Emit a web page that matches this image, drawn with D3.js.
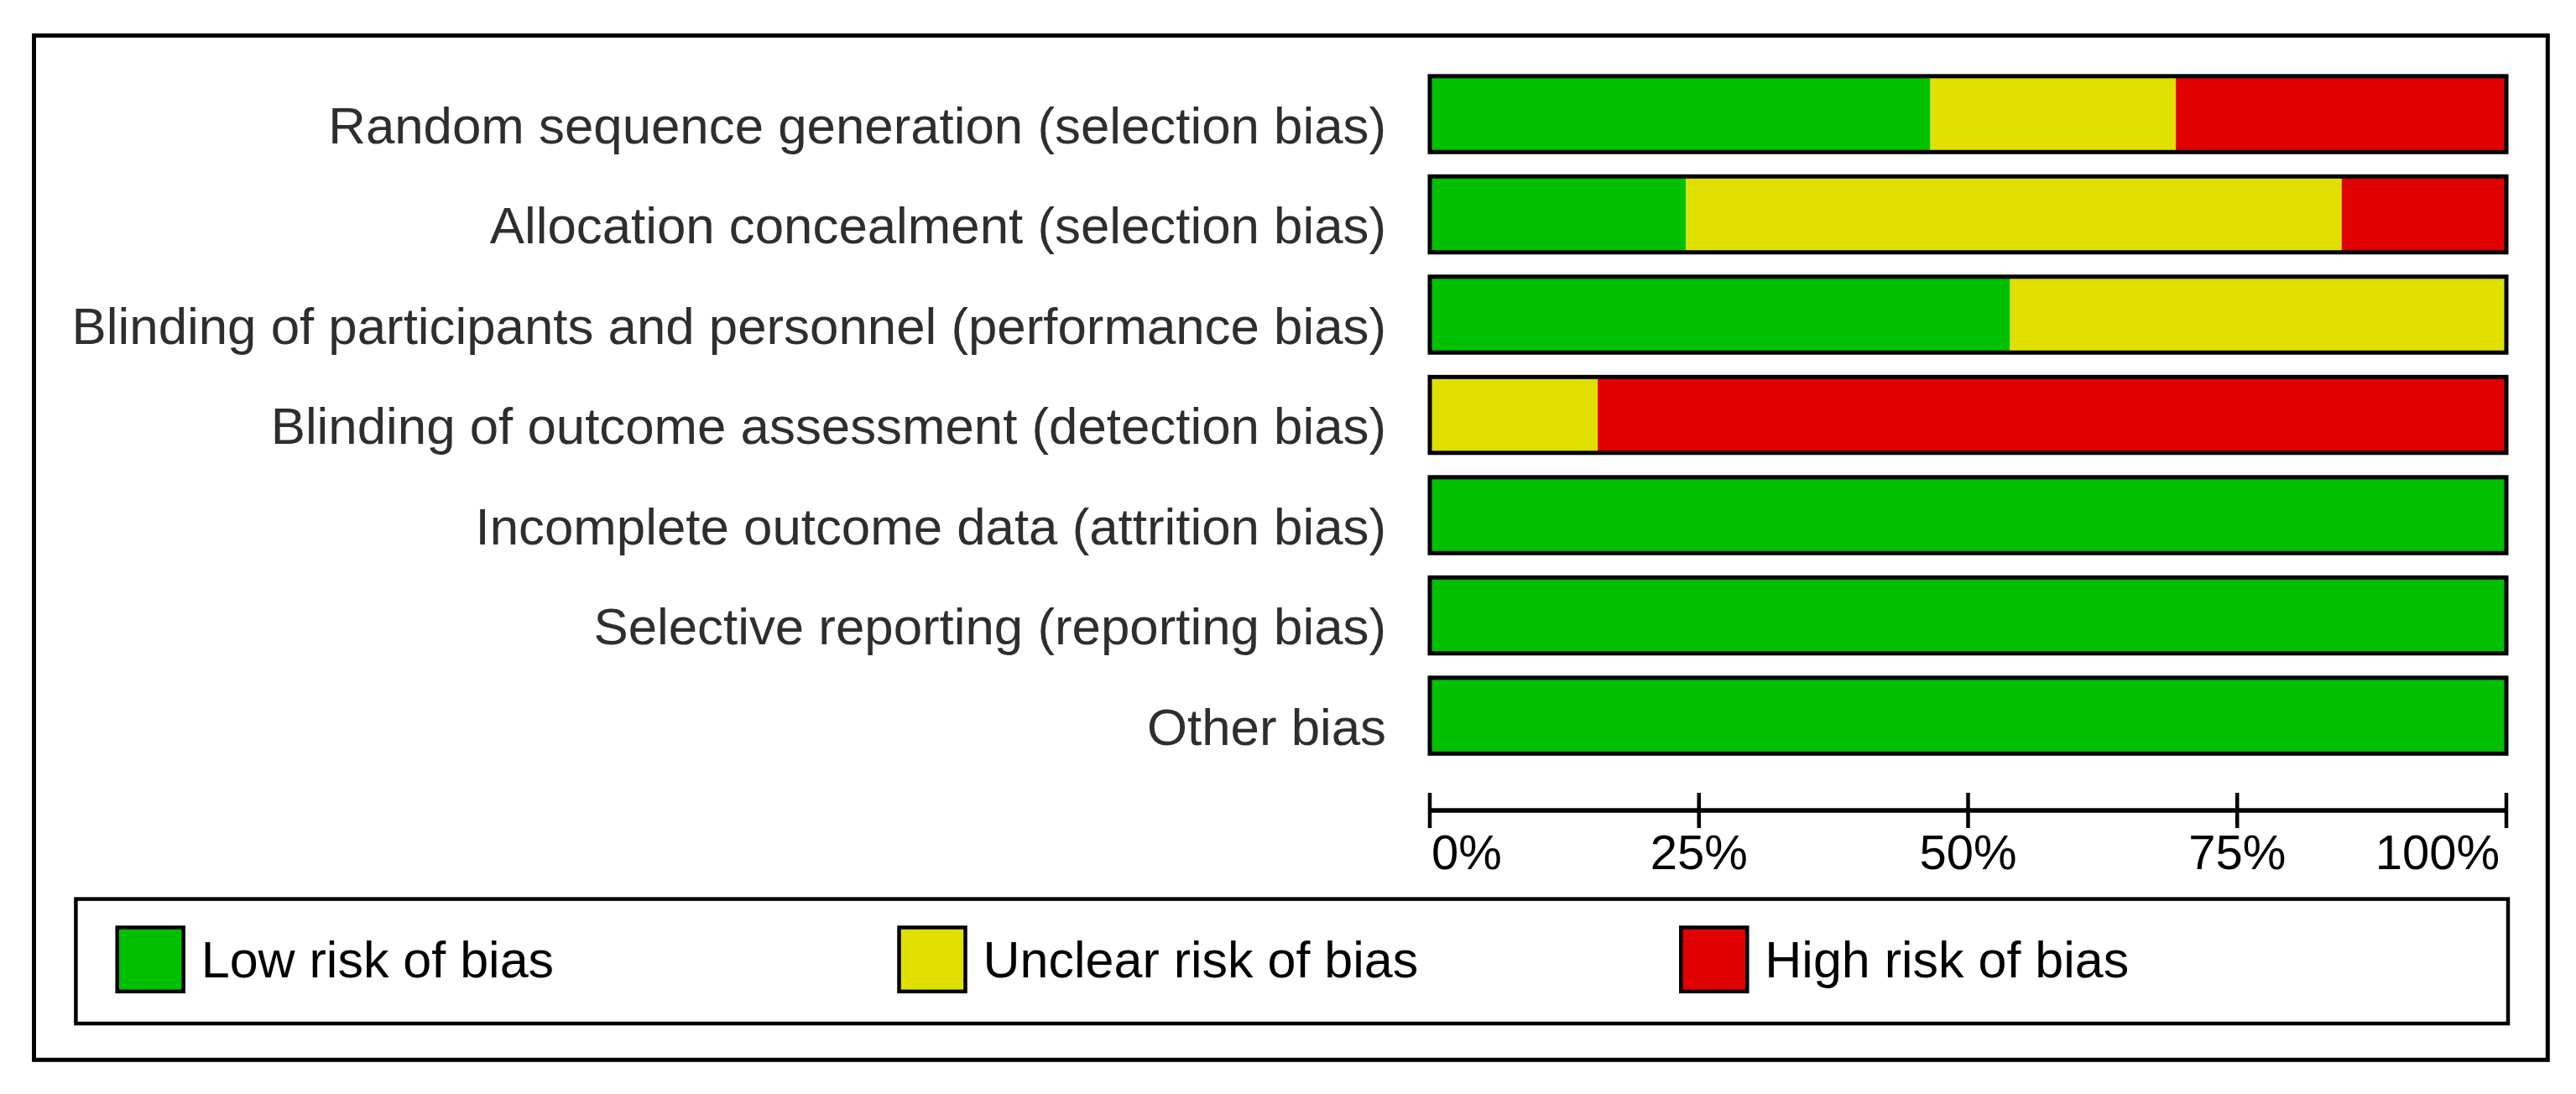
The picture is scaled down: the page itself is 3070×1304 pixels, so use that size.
<!DOCTYPE html>
<html>
<head>
<meta charset="utf-8">
<script src="https://cdn.jsdelivr.net/npm/d3@7/dist/d3.min.js"></script>
<style>
  html, body { margin: 0; padding: 0; background: #ffffff; }
  svg { display: block; }
</style>
</head>
<body>
<svg id="chart" width="3070" height="1304"></svg>
<script>
// ---- data ----
const categories = [
  "Random sequence generation (selection bias)",
  "Allocation concealment (selection bias)",
  "Blinding of participants and personnel (performance bias)",
  "Blinding of outcome assessment (detection bias)",
  "Incomplete outcome data (attrition bias)",
  "Selective reporting (reporting bias)",
  "Other bias"
];
const lowRisk     = [46.5, 23.8, 53.9,  0.0, 100, 100, 100];
const unclearRisk = [22.8, 60.9, 46.1, 15.6,   0,   0,   0];
const highRisk    = [30.7, 15.3,  0.0, 84.4,   0,   0,   0];
const seriesNames = ["Low risk of bias", "Unclear risk of bias", "High risk of bias"];
const seriesColors = ["#00c000", "#e0e000", "#e00000"];
const tickValues = [0, 25, 50, 75, 100];
const tickLabels = ["0%", "25%", "50%", "75%", "100%"];

// ---- layout ----
const svg = d3.select("#chart");
const fontFamily = "'Liberation Sans', Arial, sans-serif";

const x = d3.scaleLinear().domain([0, 100]).range([1704, 2987]);
const y = d3.scaleBand().domain(categories).range([90.8, 898.3]).paddingInner(0.243).paddingOuter(0);

// outer frame
svg.append("rect")
  .attr("x", 40.5).attr("y", 42.3)
  .attr("width", 3036.3 - 40.5).attr("height", 1263.3 - 42.3)
  .attr("fill", "none").attr("stroke", "#000").attr("stroke-width", 5);

// stacked data
const rows = categories.map((c, i) => ({ cat: c, vals: [lowRisk[i], unclearRisk[i], highRisk[i]] }));
const stackData = rows.map(r => {
  let acc = 0;
  return r.vals.map((v, k) => { const s = { cat: r.cat, k, x0: acc, x1: acc + v }; acc += v; return s; });
});

const barG = svg.append("g");
stackData.forEach(segs => {
  barG.selectAll(null)
    .data(segs.filter(s => s.x1 > s.x0))
    .enter().append("rect")
    .attr("x", d => x(d.x0))
    .attr("y", d => y(d.cat))
    .attr("width", d => x(d.x1) - x(d.x0))
    .attr("height", y.bandwidth())
    .attr("fill", d => seriesColors[d.k]);
});
// bar outlines
barG.selectAll(".outline")
  .data(categories)
  .enter().append("rect")
  .attr("class", "outline")
  .attr("x", x(0))
  .attr("y", d => y(d))
  .attr("width", x(100) - x(0))
  .attr("height", y.bandwidth())
  .attr("fill", "none")
  .attr("stroke", "#000")
  .attr("stroke-width", 5);

// category labels
svg.append("g").selectAll("text")
  .data(categories)
  .enter().append("text")
  .attr("x", 1652)
  .attr("y", d => y(d) + y.bandwidth() / 2 + 34.5)
  .attr("text-anchor", "end")
  .attr("font-family", fontFamily)
  .attr("font-size", 61.8)
  .attr("fill", "#2e2e2e")
  .text(d => d);

// x axis
const axisY = 966;
const axisG = svg.append("g");
axisG.append("line")
  .attr("x1", x(0)).attr("x2", x(100))
  .attr("y1", axisY).attr("y2", axisY)
  .attr("stroke", "#000").attr("stroke-width", 5.5);
axisG.selectAll(".tick")
  .data(tickValues)
  .enter().append("line")
  .attr("class", "tick")
  .attr("x1", d => x(d)).attr("x2", d => x(d))
  .attr("y1", 945).attr("y2", 987)
  .attr("stroke", "#000").attr("stroke-width", 4.5);
axisG.selectAll(".tlabel")
  .data(tickValues)
  .enter().append("text")
  .attr("class", "tlabel")
  .attr("x", (d, i) => i === 0 ? x(d) + 2 : (i === tickValues.length - 1 ? x(d) - 8 : x(d)))
  .attr("y", 1036)
  .attr("text-anchor", (d, i) => i === 0 ? "start" : (i === tickValues.length - 1 ? "end" : "middle"))
  .attr("font-family", fontFamily)
  .attr("font-size", 58)
  .attr("fill", "#000")
  .text((d, i) => tickLabels[i]);

// legend
const legendG = svg.append("g");
legendG.append("rect")
  .attr("x", 90.4).attr("y", 1071.6)
  .attr("width", 2989 - 90.4).attr("height", 1220 - 1071.6)
  .attr("fill", "none").attr("stroke", "#000").attr("stroke-width", 4.5);
const legendX = d3.scaleLinear().domain([0, 1]).range([139.7, 139.7 + 931.8]);
const items = legendG.selectAll(".item")
  .data(seriesNames)
  .enter().append("g")
  .attr("class", "item")
  .attr("transform", (d, i) => `translate(${legendX(i)},0)`);
items.append("rect")
  .attr("x", 0).attr("y", 1105.5)
  .attr("width", 79).attr("height", 76.3)
  .attr("fill", (d, i) => seriesColors[i])
  .attr("stroke", "#000").attr("stroke-width", 4.5);
items.append("text")
  .attr("x", 100)
  .attr("y", 1165)
  .attr("font-family", fontFamily)
  .attr("font-size", 61)
  .attr("fill", "#000")
  .text(d => d);
</script>
</body>
</html>
